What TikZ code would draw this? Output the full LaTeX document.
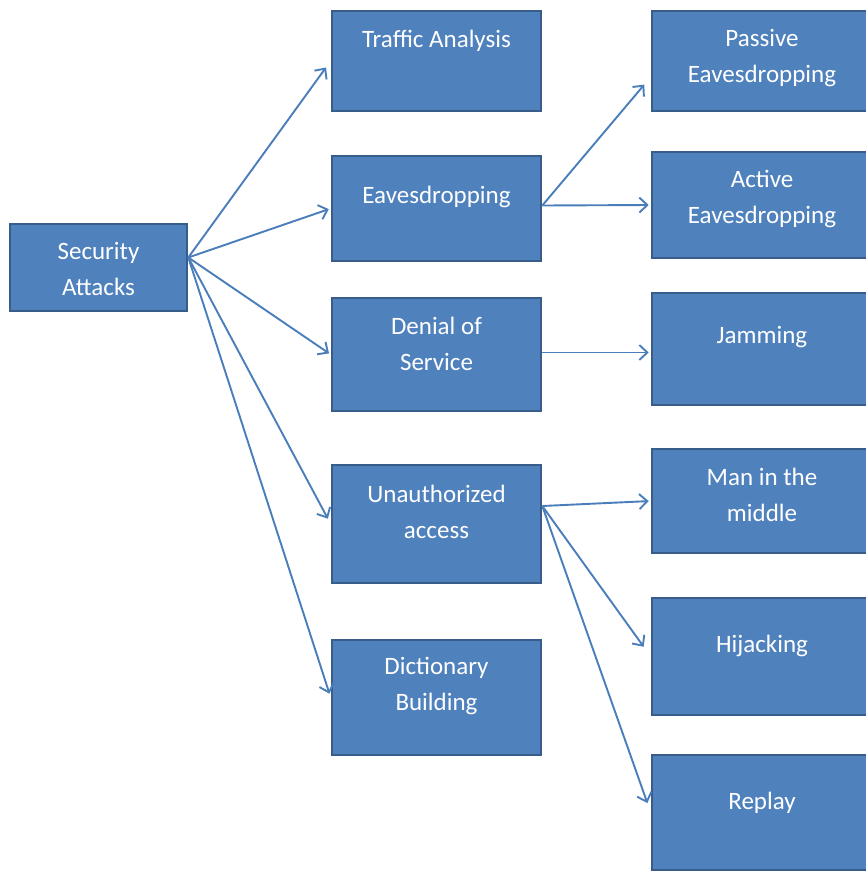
\documentclass[tikz,border=0pt]{standalone}
\usepackage{fontspec}
\setmainfont{Carlito}
\usetikzlibrary{arrows.meta}
\definecolor{boxfill}{HTML}{4F81BD}
\definecolor{boxline}{HTML}{385D8A}
\definecolor{arrowc}{HTML}{4A7EBB}

\begin{document}
\begin{tikzpicture}[
  x=1pt, y=-1pt,
  box/.style={draw=boxline, fill=boxfill, line width=2.6pt, inner sep=0pt},
  mid/.style={box, minimum width=209pt},
  leaf/.style={box, minimum width=220pt},
  lbl/.style={text=white, font=\fontsize{25}{36}\selectfont, align=center},
  arr/.style={-{Straight Barb[length=8pt,width=15pt]}, line width=1.9pt, color=arrowc},
]
\useasboundingbox (0,0) rectangle (865,873);

% root
\node[box, minimum width=177pt, minimum height=87pt,
  label={[lbl,yshift=-1pt]center:{Security\\Attacks}}] (sa) at (98.5,267.5) {};

% attack types
\node[mid, minimum height=100pt, label={[lbl,yshift=20pt]center:Traffic Analysis}] (ta) at (436.5,61) {};
\node[mid, minimum height=105pt, label={[lbl,yshift=12pt]center:Eavesdropping}] (es) at (436.5,208.5) {};
\node[mid, minimum height=113pt, label={[lbl,yshift=10.5pt]center:{Denial of\\Service}}] (ds) at (436.5,354.5) {};
\node[mid, minimum height=118pt, label={[lbl,yshift=12.5pt]center:{Unauthorized\\access}}] (ua) at (436.5,524) {};
\node[mid, minimum height=115pt, label={[lbl,yshift=11.5pt]center:{Dictionary\\Building}}] (db) at (436.5,697.5) {};

% sub types
\node[leaf, minimum height=100pt, label={[lbl,yshift=3pt]center:{Passive\\Eavesdropping}}] (pe) at (762,61) {};
\node[leaf, minimum height=106pt, label={[lbl,yshift=6pt]center:{Active\\Eavesdropping}}] (ae) at (762,205) {};
\node[leaf, minimum height=112pt, label={[lbl,yshift=11.5pt]center:Jamming}] (jm) at (762,349) {};
\node[leaf, minimum height=104pt, label={[lbl,yshift=6pt]center:{Man in the\\middle}}] (mm) at (762,501) {};
\node[leaf, minimum height=117pt, label={[lbl,yshift=11pt]center:Hijacking}] (hj) at (762,656.5) {};
\node[leaf, minimum height=115pt, label={[lbl,yshift=10pt]center:Replay}] (rp) at (762,812.5) {};

% arrows
\draw[arr, shorten >=8pt] ([yshift=10pt]sa.east) -- (ta.west);
\draw[arr, shorten >=2pt] ([yshift=10pt]sa.east) -- (es.west);
\draw[arr, shorten >=2pt] ([yshift=10pt]sa.east) -- (ds.west);
\draw[arr, shorten >=6pt] ([yshift=10pt]sa.east) -- (ua.west);
\draw[arr, shorten >=4pt] ([yshift=10pt]sa.east) -- (db.west);

\draw[arr, shorten >=10pt] ([yshift=3pt]es.east) -- ([yshift=-16pt]pe.west);
\draw[arr, shorten >=2pt] ([yshift=3pt]es.east) -- (ae.west);
\draw[arr, shorten >=2pt] ([yshift=2pt]ds.east) -- ([yshift=2pt]ds.east -| jm.west);

\draw[arr, shorten >=2pt] ([yshift=18pt]ua.east) -- (mm.west);
\draw[arr, shorten >=12pt] ([yshift=18pt]ua.east) -- (hj.west);
\draw[arr, shorten >=10pt] ([yshift=18pt]ua.east) -- (rp.west);

\end{tikzpicture}
\end{document}
